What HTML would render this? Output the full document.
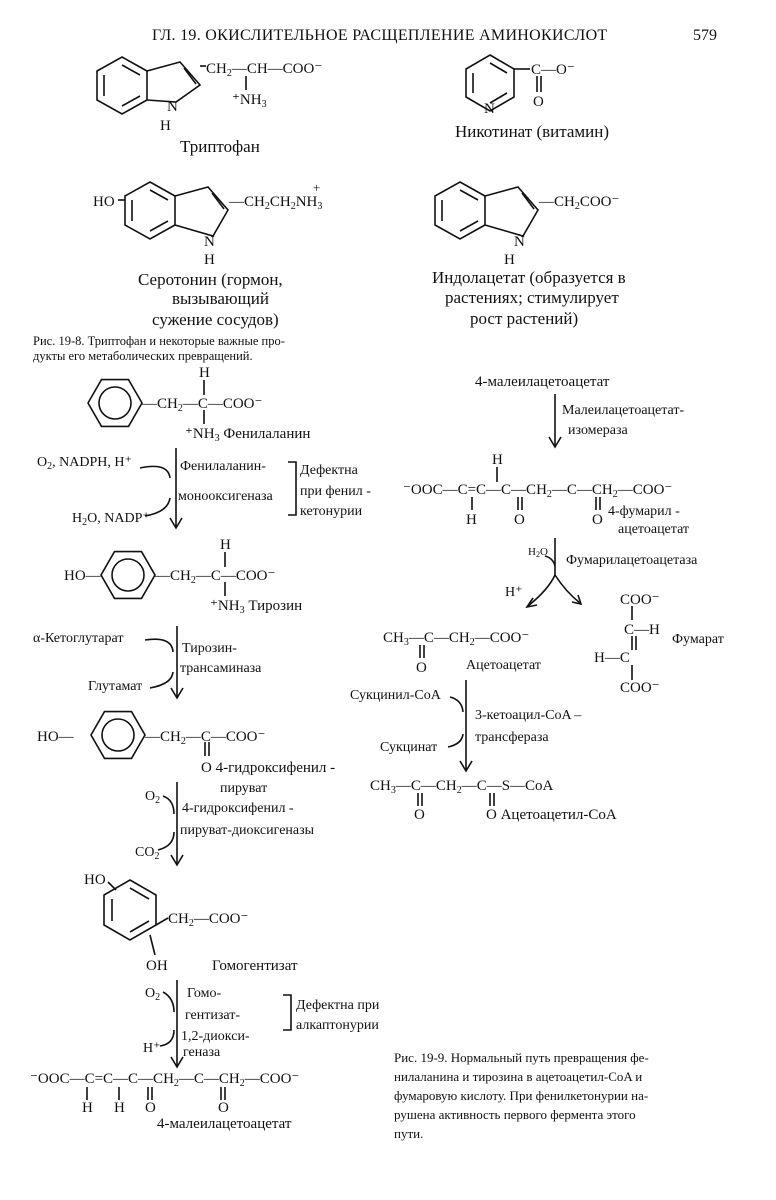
<!DOCTYPE html>
<html><head><meta charset="utf-8">
<style>
html,body{margin:0;padding:0;background:#fff;}
svg{display:block;}
text{font-family:"Liberation Serif",serif;fill:#111;}
</style></head>
<body>
<svg width="776" height="1200" viewBox="0 0 776 1200" xmlns="http://www.w3.org/2000/svg">
<g stroke="#111" stroke-width="1.6" fill="none">
<polygon points="122,57 147,71 147,100 122,114 97,100 97,71"/>
<line x1="104" y1="75" x2="104" y2="96"/><line x1="122" y1="65" x2="140" y2="75"/><line x1="122" y1="106" x2="140" y2="96"/>
<polyline points="147,71 180,62 200,85 176,102 147,100"/>
<line x1="184" y1="68" x2="196" y2="84"/>
<line x1="200" y1="66" x2="206" y2="66"/>
<line x1="246" y1="76" x2="246" y2="90"/>
<polygon points="490,55 514,69 514,97 490,111 466,97 466,69"/>
<line x1="473" y1="73" x2="473" y2="93"/><line x1="490" y1="63" x2="507" y2="73"/><line x1="490" y1="103" x2="507" y2="93"/>
<line x1="514" y1="69" x2="530" y2="69"/>
<line x1="537" y1="76" x2="537" y2="92"/><line x1="541" y1="76" x2="541" y2="92"/>
<polygon points="150,182 175,196 175,225 150,239 125,225 125,196"/>
<line x1="132" y1="200" x2="132" y2="221"/><line x1="150" y1="190" x2="168" y2="200"/><line x1="150" y1="231" x2="168" y2="221"/>
<polyline points="175,196 208,187 228,210 213,236 175,225"/>
<line x1="212" y1="193" x2="224" y2="209"/>
<line x1="118" y1="200" x2="125" y2="200"/>
<polygon points="460,182 485,196 485,225 460,239 435,225 435,196"/>
<line x1="442" y1="200" x2="442" y2="221"/><line x1="460" y1="190" x2="478" y2="200"/><line x1="460" y1="231" x2="478" y2="221"/>
<polyline points="485,196 518,187 538,210 523,236 485,225"/>
<line x1="522" y1="193" x2="534" y2="209"/>
<polygon points="88,403 101.5,379.6 128.5,379.6 142,403 128.5,426.4 101.5,426.4"/>
<circle cx="115" cy="403" r="16"/>
<line x1="204" y1="380" x2="204" y2="395"/><line x1="204" y1="410" x2="204" y2="424"/>
<polygon points="101,575 114.5,551.6 141.5,551.6 155,575 141.5,598.4 114.5,598.4"/>
<circle cx="128" cy="575" r="16"/>
<line x1="225" y1="552" x2="225" y2="567"/><line x1="225" y1="582" x2="225" y2="596"/>
<polygon points="91,735 104.5,711.6 131.5,711.6 145,735 131.5,758.4 104.5,758.4"/>
<circle cx="118" cy="735" r="16"/>
<line x1="205" y1="742" x2="205" y2="756"/><line x1="209" y1="742" x2="209" y2="756"/>
<polygon points="130,880 156,895 156,925 130,940 104,925 104,895"/>
<line x1="112" y1="899" x2="112" y2="921"/><line x1="130" y1="888" x2="149" y2="899"/><line x1="130" y1="932" x2="149" y2="921"/>
<line x1="108" y1="882" x2="116" y2="890"/>
<line x1="156" y1="925" x2="168" y2="918"/>
<line x1="150" y1="935" x2="155" y2="955"/>
<line x1="87" y1="1087" x2="87" y2="1100"/><line x1="119" y1="1087" x2="119" y2="1100"/>
<line x1="148" y1="1087" x2="148" y2="1100"/><line x1="152" y1="1087" x2="152" y2="1100"/>
<line x1="221" y1="1087" x2="221" y2="1100"/><line x1="225" y1="1087" x2="225" y2="1100"/>
<line x1="176" y1="448" x2="176" y2="527"/><path d="M170,518 L176,528 L182,518"/>
<path d="M140,468 Q168,462 170,478"/><path d="M170,498 Q168,512 145,516"/>
<path d="M288,462 L296,462 L296,515 L288,515"/>
<line x1="177" y1="626" x2="177" y2="697"/><path d="M171,688 L177,698 L183,688"/>
<path d="M145,640 Q172,636 173,652"/><path d="M173,672 Q172,684 150,688"/>
<line x1="177" y1="782" x2="177" y2="864"/><path d="M171,855 L177,865 L183,855"/>
<path d="M163,796 Q174,800 174,814"/><path d="M174,832 Q174,846 158,850"/>
<line x1="177" y1="980" x2="177" y2="1066"/><path d="M171,1057 L177,1067 L183,1057"/>
<path d="M163,992 Q174,998 174,1012"/><path d="M174,1030 Q174,1044 160,1046"/>
<path d="M283,995 L291,995 L291,1030 L283,1030"/>
<line x1="555" y1="394" x2="555" y2="446"/><path d="M549,437 L555,447 L561,437"/>
<line x1="497" y1="467" x2="497" y2="482"/><line x1="472" y1="497" x2="472" y2="510"/>
<line x1="518" y1="497" x2="518" y2="510"/><line x1="522" y1="497" x2="522" y2="510"/>
<line x1="596" y1="497" x2="596" y2="510"/><line x1="600" y1="497" x2="600" y2="510"/>
<line x1="555" y1="538" x2="555" y2="575"/>
<path d="M555,575 Q548,590 528,606"/><path d="M533,598 L527,607 L537,605"/>
<path d="M555,575 Q566,592 580,603"/><path d="M572,602 L581,604 L578,595"/>
<path d="M545,556 Q553,558 555,566"/>
<line x1="632" y1="606" x2="632" y2="620"/><line x1="632" y1="636" x2="632" y2="650"/><line x1="636" y1="636" x2="636" y2="650"/>
<line x1="632" y1="665" x2="632" y2="680"/>
<line x1="420" y1="645" x2="420" y2="658"/><line x1="424" y1="645" x2="424" y2="658"/>
<line x1="466" y1="680" x2="466" y2="770"/><path d="M460,761 L466,771 L472,761"/>
<path d="M450,697 Q462,700 463,712"/><path d="M463,734 Q462,744 448,747"/>
<line x1="418" y1="793" x2="418" y2="806"/><line x1="422" y1="793" x2="422" y2="806"/>
<line x1="490" y1="793" x2="490" y2="806"/><line x1="494" y1="793" x2="494" y2="806"/>
</g>

<text x="152" y="40" font-size="16" letter-spacing="0.3">ГЛ. 19. ОКИСЛИТЕЛЬНОЕ РАСЩЕПЛЕНИЕ АМИНОКИСЛОТ</text>
<text x="693" y="40" font-size="16">579</text>

<text x="206" y="73" font-size="15">CH<tspan font-size="10" dy="3">2</tspan><tspan dy="-3">—CH—COO⁻</tspan></text>
<text x="232" y="104" font-size="15">⁺NH<tspan font-size="10" dy="3">3</tspan></text>
<text x="167" y="111" font-size="15">N</text>
<text x="160" y="130" font-size="15">H</text>
<text x="180" y="152" font-size="17">Триптофан</text>

<text x="531" y="74" font-size="15">C—O⁻</text>
<text x="533" y="106" font-size="15">O</text>
<text x="484" y="113" font-size="15">N</text>
<text x="455" y="137" font-size="17">Никотинат  (витамин)</text>

<text x="93" y="206" font-size="15">HO</text>
<text x="229" y="206" font-size="15">—CH<tspan font-size="10" dy="3">2</tspan><tspan dy="-3">CH</tspan><tspan font-size="10" dy="3">2</tspan><tspan dy="-3">NH</tspan><tspan font-size="10" dy="3">3</tspan></text>
<text x="313" y="192" font-size="13">+</text>
<text x="204" y="246" font-size="15">N</text>
<text x="204" y="264" font-size="15">H</text>
<text x="138" y="285" font-size="17">Серотонин  (гормон,</text>
<text x="172" y="304" font-size="17">вызывающий</text>
<text x="152" y="325" font-size="17">сужение сосудов)</text>

<text x="539" y="206" font-size="15">—CH<tspan font-size="10" dy="3">2</tspan><tspan dy="-3">COO⁻</tspan></text>
<text x="514" y="246" font-size="15">N</text>
<text x="504" y="264" font-size="15">H</text>
<text x="432" y="283" font-size="17">Индолацетат (образуется в</text>
<text x="445" y="303" font-size="17">растениях; стимулирует</text>
<text x="470" y="324" font-size="17">рост растений)</text>

<text x="33" y="345" font-size="12.5">Рис. 19-8. Триптофан и некоторые важные про-</text>
<text x="33" y="360" font-size="12.5">дукты его метаболических превращений.</text>

<text x="199" y="377" font-size="15">H</text>
<text x="142" y="408" font-size="15">—CH<tspan font-size="10" dy="3">2</tspan><tspan dy="-3">—C—COO⁻</tspan></text>
<text x="185" y="438" font-size="15">⁺NH<tspan font-size="10" dy="3">3</tspan><tspan dy="-3">  Фенилаланин</tspan></text>
<text x="37" y="466" font-size="14">O<tspan font-size="10" dy="3">2</tspan><tspan dy="-3">, NADPH, H⁺</tspan></text>
<text x="180" y="470" font-size="14">Фенилаланин-</text>
<text x="178" y="500" font-size="14">монооксигеназа</text>
<text x="72" y="522" font-size="14">H<tspan font-size="10" dy="3">2</tspan><tspan dy="-3">O, NADP⁺</tspan></text>
<text x="300" y="474" font-size="14">Дефектна</text>
<text x="300" y="495" font-size="14">при фенил -</text>
<text x="300" y="515" font-size="14">кетонурии</text>

<text x="220" y="549" font-size="15">H</text>
<text x="64" y="580" font-size="15">HO—</text>
<text x="155" y="580" font-size="15">—CH<tspan font-size="10" dy="3">2</tspan><tspan dy="-3">—C—COO⁻</tspan></text>
<text x="210" y="610" font-size="15">⁺NH<tspan font-size="10" dy="3">3</tspan><tspan dy="-3">  Тирозин</tspan></text>
<text x="33" y="642" font-size="14">α-Кетоглутарат</text>
<text x="182" y="652" font-size="14">Тирозин-</text>
<text x="180" y="672" font-size="14">трансаминаза</text>
<text x="88" y="690" font-size="14">Глутамат</text>

<text x="37" y="741" font-size="15">HO—</text>
<text x="145" y="741" font-size="15">—CH<tspan font-size="10" dy="3">2</tspan><tspan dy="-3">—C—COO⁻</tspan></text>
<text x="201" y="772" font-size="15">O 4-гидроксифенил -</text>
<text x="220" y="792" font-size="14">пируват</text>
<text x="145" y="800" font-size="14">O<tspan font-size="10" dy="3">2</tspan></text>
<text x="182" y="812" font-size="14">4-гидроксифенил -</text>
<text x="180" y="834" font-size="14">пируват-диоксигеназы</text>
<text x="135" y="856" font-size="14">CO<tspan font-size="10" dy="3">2</tspan></text>

<text x="84" y="884" font-size="15">HO</text>
<text x="168" y="923" font-size="15">CH<tspan font-size="10" dy="3">2</tspan><tspan dy="-3">—COO⁻</tspan></text>
<text x="146" y="970" font-size="15">OH</text>
<text x="212" y="970" font-size="15">Гомогентизат</text>
<text x="145" y="997" font-size="14">O<tspan font-size="10" dy="3">2</tspan></text>
<text x="187" y="997" font-size="14">Гомо-</text>
<text x="185" y="1019" font-size="14">гентизат-</text>
<text x="181" y="1040" font-size="14">1,2-диокси-</text>
<text x="183" y="1056" font-size="14">геназа</text>
<text x="143" y="1052" font-size="14">H⁺</text>
<text x="296" y="1009" font-size="14">Дефектна при</text>
<text x="296" y="1029" font-size="14">алкаптонурии</text>

<text x="30" y="1083" font-size="15">⁻OOC—C=C—C—CH<tspan font-size="10" dy="3">2</tspan><tspan dy="-3">—C—CH</tspan><tspan font-size="10" dy="3">2</tspan><tspan dy="-3">—COO⁻</tspan></text>
<text x="82" y="1112" font-size="15">H</text>
<text x="114" y="1112" font-size="15">H</text>
<text x="145" y="1112" font-size="15">O</text>
<text x="218" y="1112" font-size="15">O</text>
<text x="157" y="1128" font-size="15">4-малеилацетоацетат</text>

<text x="475" y="386" font-size="15">4-малеилацетоацетат</text>
<text x="562" y="414" font-size="14">Малеилацетоацетат-</text>
<text x="568" y="434" font-size="14">изомераза</text>
<text x="492" y="464" font-size="15">H</text>
<text x="403" y="494" font-size="15">⁻OOC—C=C—C—CH<tspan font-size="10" dy="3">2</tspan><tspan dy="-3">—C—CH</tspan><tspan font-size="10" dy="3">2</tspan><tspan dy="-3">—COO⁻</tspan></text>
<text x="466" y="524" font-size="15">H</text>
<text x="514" y="524" font-size="15">O</text>
<text x="592" y="524" font-size="15">O</text>
<text x="608" y="515" font-size="14">4-фумарил -</text>
<text x="618" y="533" font-size="14">ацетоацетат</text>
<text x="528" y="555" font-size="11">H<tspan font-size="8" dy="2">2</tspan><tspan dy="-2">O</tspan></text>
<text x="566" y="564" font-size="14">Фумарилацетоацетаза</text>
<text x="505" y="596" font-size="14">H⁺</text>
<text x="620" y="604" font-size="15">COO⁻</text>
<text x="624" y="634" font-size="15">C—H</text>
<text x="594" y="662" font-size="15">H—C</text>
<text x="620" y="692" font-size="15">COO⁻</text>
<text x="672" y="643" font-size="14">Фумарат</text>
<text x="383" y="642" font-size="15">CH<tspan font-size="10" dy="3">3</tspan><tspan dy="-3">—C—CH</tspan><tspan font-size="10" dy="3">2</tspan><tspan dy="-3">—COO⁻</tspan></text>
<text x="416" y="672" font-size="15">O</text>
<text x="466" y="669" font-size="14">Ацетоацетат</text>
<text x="350" y="699" font-size="14">Сукцинил-CoA</text>
<text x="475" y="719" font-size="14">3-кетоацил-CoA –</text>
<text x="475" y="741" font-size="14">трансфераза</text>
<text x="380" y="751" font-size="14">Сукцинат</text>
<text x="370" y="790" font-size="15">CH<tspan font-size="10" dy="3">3</tspan><tspan dy="-3">—C—CH</tspan><tspan font-size="10" dy="3">2</tspan><tspan dy="-3">—C—S—CoA</tspan></text>
<text x="414" y="819" font-size="15">O</text>
<text x="486" y="819" font-size="15">O  Ацетоацетил-CoA</text>

<text x="394" y="1062" font-size="13">Рис. 19-9. Нормальный путь превращения фе-</text>
<text x="394" y="1081" font-size="13">нилаланина и тирозина в ацетоацетил-CoA и</text>
<text x="394" y="1100" font-size="13">фумаровую кислоту. При фенилкетонурии на-</text>
<text x="394" y="1119" font-size="13">рушена активность первого фермента этого</text>
<text x="394" y="1138" font-size="13">пути.</text>
</svg>
</body></html>
